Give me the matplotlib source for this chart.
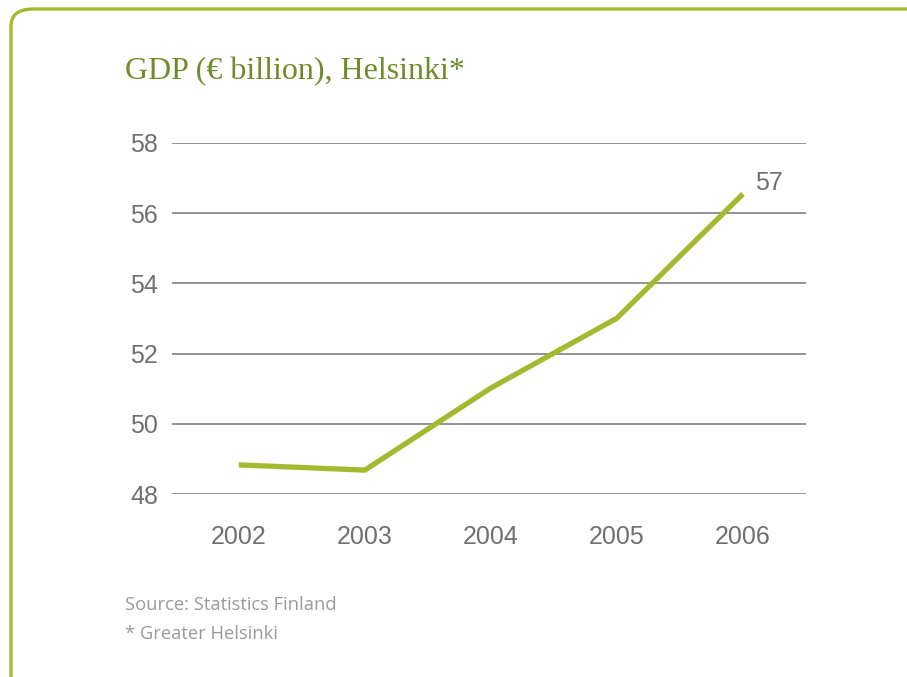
import matplotlib
matplotlib.use("Agg")
import matplotlib.pyplot as plt
from matplotlib.patches import FancyBboxPatch

years = ["2002", "2003", "2004", "2005", "2006"]
gdp = [48.83, 48.68, 51.02, 53.01, 56.55]
yticks = [48, 50, 52, 54, 56, 58]
end_label = "57"

GREEN = "#a3b92f"
TITLE_GREEN = "#6e8c2a"
GRAY = "#707070"

fig = plt.figure(figsize=(9.07, 6.77), dpi=100)
fig.patch.set_facecolor("white")

# border (top-left rounded corner visible)
border = FancyBboxPatch((11 / 907, -0.2), 1.2, 1 - 9 / 677 + 0.2,
                        boxstyle="round,pad=0,rounding_size=0.025",
                        transform=fig.transFigure, fill=False,
                        edgecolor=GREEN, linewidth=2.4, clip_on=False)
fig.patches.append(border)

ax = fig.add_axes([172 / 907, 1 - 494 / 677, (806 - 172) / 907, (494 - 143) / 677])
x = list(range(len(years)))
ax.plot(x, gdp, color=GREEN, linewidth=3.8, solid_capstyle="butt", zorder=3)
ax.set_xlim(-0.53, 4.5)
ax.set_ylim(48, 58)
ax.set_yticks(yticks)
ax.set_yticklabels([str(t) for t in yticks])
ax.set_xticks(x)
ax.set_xticklabels(years)
for s in ax.spines.values():
    s.set_visible(False)
ax.grid(axis="y", color="#8a8a8a", linewidth=1.3)
ax.set_axisbelow(True)
ax.tick_params(axis="both", length=0, labelsize=18, labelcolor=GRAY)
ax.tick_params(axis="y", pad=10)
ax.tick_params(axis="x", pad=22)
for lab in ax.get_xticklabels() + ax.get_yticklabels():
    lab.set_fontfamily("Liberation Sans")

ax.annotate(end_label, (x[-1], gdp[-1]), xytext=(9, -1), textcoords="offset points",
            fontsize=18, color=GRAY, fontfamily="Liberation Sans", ha="left", va="bottom")

fig.text(125 / 907, 1 - 72 / 677, "GDP (€ billion), Helsinki*", fontsize=23,
         color=TITLE_GREEN, fontfamily="Liberation Serif", ha="left", va="center")
fig.text(125 / 907, 1 - 605 / 677, "Source: Statistics Finland", fontsize=13.2,
         color="#9a9a9e", fontfamily="Open Sans", ha="left", va="center")
fig.text(125 / 907, 1 - 634 / 677, "* Greater Helsinki", fontsize=13.2,
         color="#9a9a9e", fontfamily="Open Sans", ha="left", va="center")

fig.savefig("out.png", dpi=100, facecolor="white")
